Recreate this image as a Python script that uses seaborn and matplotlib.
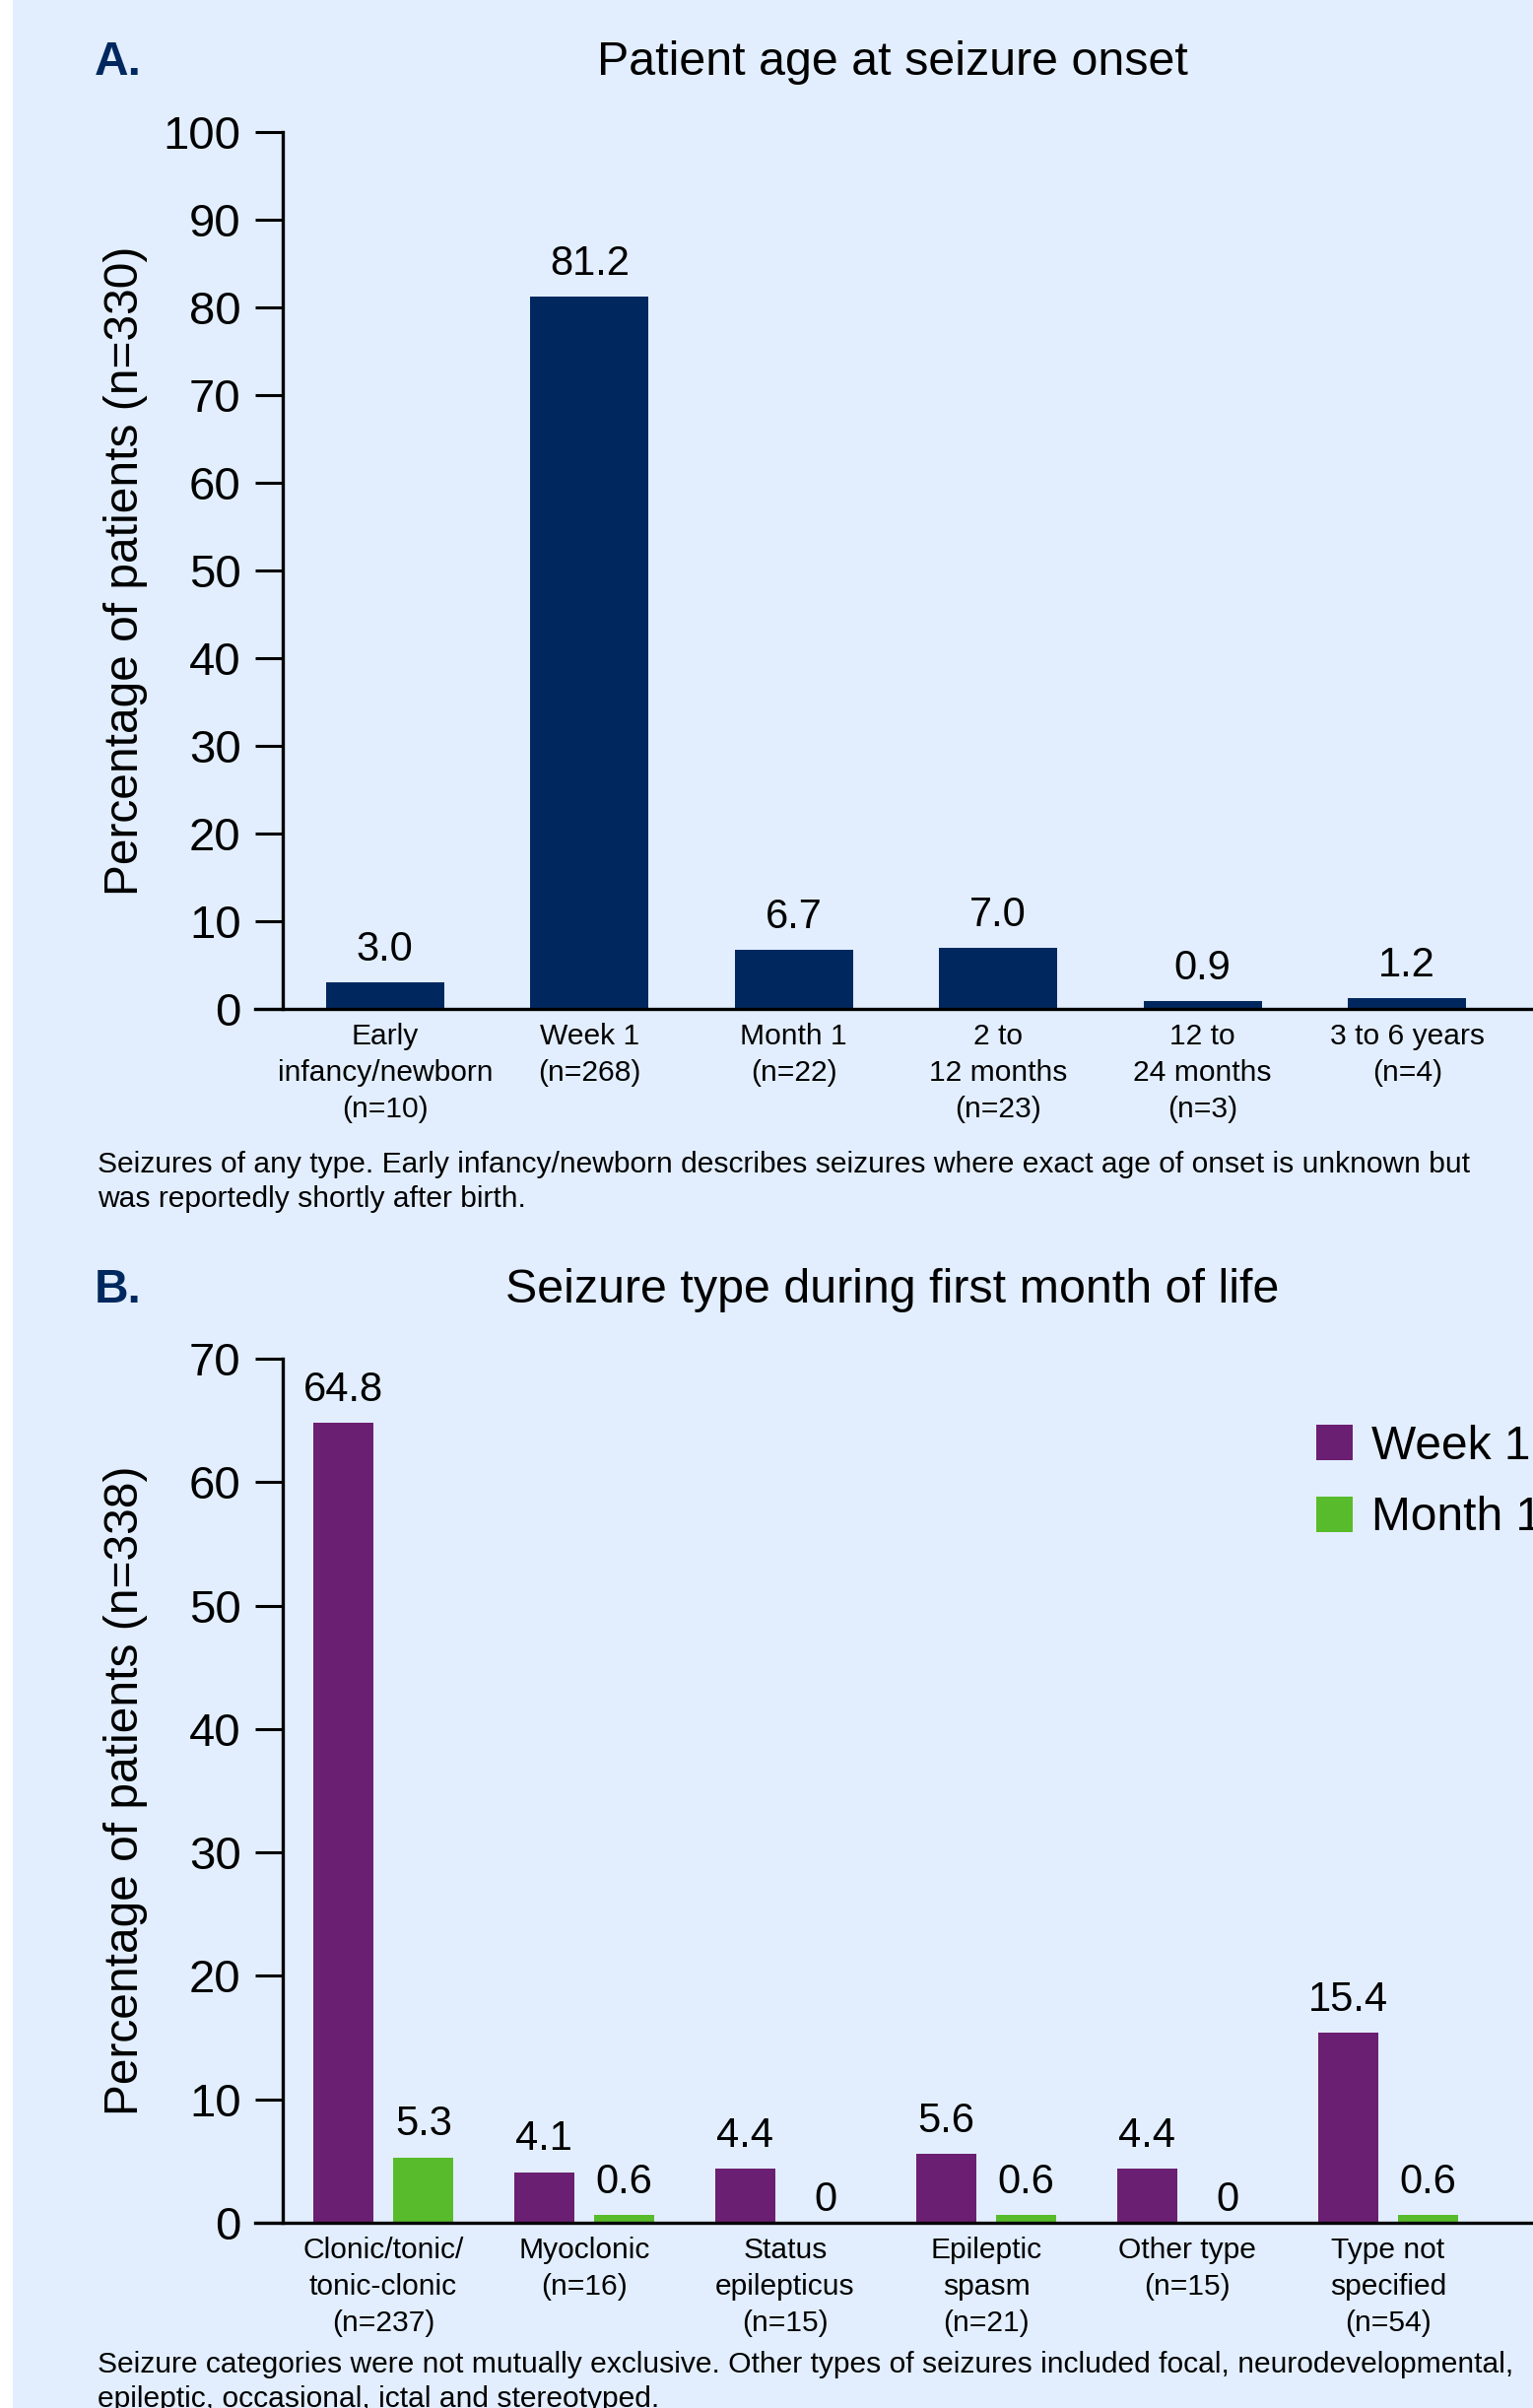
import matplotlib
matplotlib.use("Agg")
import matplotlib.pyplot as plt
from matplotlib.patches import Rectangle
import pandas as pd
import seaborn as sns

# ---- data -------------------------------------------------------------
onset_labels = [
    "Early\ninfancy/newborn\n(n=10)",
    "Week 1\n(n=268)",
    "Month 1\n(n=22)",
    "2 to\n12 months\n(n=23)",
    "12 to\n24 months\n(n=3)",
    "3 to 6 years\n(n=4)",
]
onset_pct = [3.0, 81.2, 6.7, 7.0, 0.9, 1.2]

type_labels = [
    "Clonic/tonic/\ntonic-clonic\n(n=237)",
    "Myoclonic\n(n=16)",
    "Status\nepilepticus\n(n=15)",
    "Epileptic\nspasm\n(n=21)",
    "Other type\n(n=15)",
    "Type not\nspecified\n(n=54)",
]
periods = ["Week 1", "Month 1"]
week1_pct = [64.8, 4.1, 4.4, 5.6, 4.4, 15.4]
month1_pct = [5.3, 0.6, 0, 0.6, 0, 0.6]

onset_ticks = list(range(0, 101, 10))
type_ticks = list(range(0, 71, 10))

caption_a = ("Seizures of any type. Early infancy/newborn describes seizures where exact age of onset is unknown but\n"
             "was reportedly shortly after birth.")
caption_b = ("Seizure categories were not mutually exclusive. Other types of seizures included focal, neurodevelopmental,\n"
             "epileptic, occasional, ictal and stereotyped.")

# ---- style ------------------------------------------------------------
BG = "#E2EEFD"
NAVY = "#00285F"
PURPLE = "#6B1F72"
GREEN = "#58BB2B"

sns.set_theme(style="white")
plt.rcParams["font.family"] = ["Liberation Sans", "DejaVu Sans"]
plt.rcParams["text.color"] = "black"
plt.rcParams["axes.labelcolor"] = "black"
plt.rcParams["xtick.color"] = "black"
plt.rcParams["ytick.color"] = "black"

W, H = 1556, 2444
fig = plt.figure(figsize=(W / 100, H / 100), dpi=100, facecolor=BG)
fig.patches.append(Rectangle((0, 0), 13 / W, 1, transform=fig.transFigure,
                             facecolor="white", edgecolor="none", zorder=0))


def px_axes(left, top, right, bottom):
    return fig.add_axes([left / W, 1 - bottom / H, (right - left) / W, (bottom - top) / H])


def style_axes(ax, yticks, ylabel, y_center, slot):
    ax.set_facecolor("none")
    for side in ("top", "right"):
        ax.spines[side].set_visible(False)
    for side in ("left", "bottom"):
        ax.spines[side].set_color("black")
        ax.spines[side].set_linewidth(2.4)
    ax.spines["left"].set_position(("data", -0.5))
    ax.set_xlim(-0.5 - 28 / slot, -0.5 + (W - 287) / slot)
    ax.set_ylim(yticks[0], yticks[-1])
    ax.set_yticks(yticks)
    ax.tick_params(axis="y", length=20, width=2.2, pad=10.5, labelsize=34, left=True)
    ax.tick_params(axis="x", length=0, pad=10, labelsize=21.6)
    for t in ax.get_xticklabels():
        t.set_linespacing(1.42)
    ax.set_xlabel("")
    ax.set_ylabel(ylabel, fontsize=34.5)
    ax.yaxis.set_label_coords(150 / W, 1 - y_center / H, transform=fig.transFigure)
    ax.grid(False)


def value_text(v):
    return "0" if v == 0 else f"{v:.1f}"


def label_bars(ax, container, values):
    for bar, v in zip(container, values):
        pad = 2.3 if v == 0 else 9.5
        ax.annotate(value_text(v), (bar.get_x() + bar.get_width() / 2, bar.get_height()),
                    xytext=(0, pad), textcoords="offset points",
                    ha="center", va="bottom", fontsize=30)


# ---- panel A: age at onset -------------------------------------------
ax_a = px_axes(259, 134, W, 1024)
df_a = pd.DataFrame({"age": onset_labels, "pct": onset_pct})
sns.barplot(data=df_a, x="age", y="pct", color=NAVY, saturation=1,
            width=0.576, linewidth=0, ax=ax_a)
style_axes(ax_a, onset_ticks, "Percentage of patients (n=330)", 579, 207.5)
label_bars(ax_a, ax_a.containers[0], onset_pct)

fig.text(96 / W, 1 - 76 / H, "A.", fontsize=34.5, fontweight="bold", color=NAVY, va="baseline")
fig.text(906 / W, 1 - 76 / H, "Patient age at seizure onset", fontsize=34.8,
         ha="center", va="baseline")
# multi-line text with va="baseline" anchors the last line's baseline
fig.text(99 / W, 1 - 1225 / H, caption_a, fontsize=21.6, va="baseline", linespacing=1.34)

# ---- panel B: seizure type in first month ----------------------------
ax_b = px_axes(259, 1379, W, 2256)
df_b = pd.DataFrame({
    "type": type_labels * 2,
    "period": [periods[0]] * len(type_labels) + [periods[1]] * len(type_labels),
    "pct": week1_pct + month1_pct,
})
sns.barplot(data=df_b, x="type", y="pct", hue="period", hue_order=periods,
            palette=[PURPLE, GREEN], saturation=1, width=0.8, gap=0.25,
            linewidth=0, ax=ax_b)
style_axes(ax_b, type_ticks, "Percentage of patients (n=338)", 1817, 204)
for container, vals in zip(ax_b.containers, [week1_pct, month1_pct]):
    label_bars(ax_b, container, vals)

handles, labels = ax_b.get_legend_handles_labels()
ax_b.legend(handles, labels, loc="upper left",
            bbox_to_anchor=(1336 / W, 1 - 1446 / H), bbox_transform=fig.transFigure,
            frameon=False, fontsize=34.5, handlelength=0.78, handleheight=0.78,
            handletextpad=0.38, labelspacing=0.57, borderpad=0, borderaxespad=0)

fig.text(96 / W, 1 - 1322 / H, "B.", fontsize=34.5, fontweight="bold", color=NAVY, va="baseline")
fig.text(906 / W, 1 - 1322 / H, "Seizure type during first month of life", fontsize=34.8,
         ha="center", va="baseline")
fig.text(99 / W, 1 - 2443 / H, caption_b, fontsize=21.6, va="baseline", linespacing=1.34)

fig.savefig("out.png", dpi=100, facecolor=BG)
